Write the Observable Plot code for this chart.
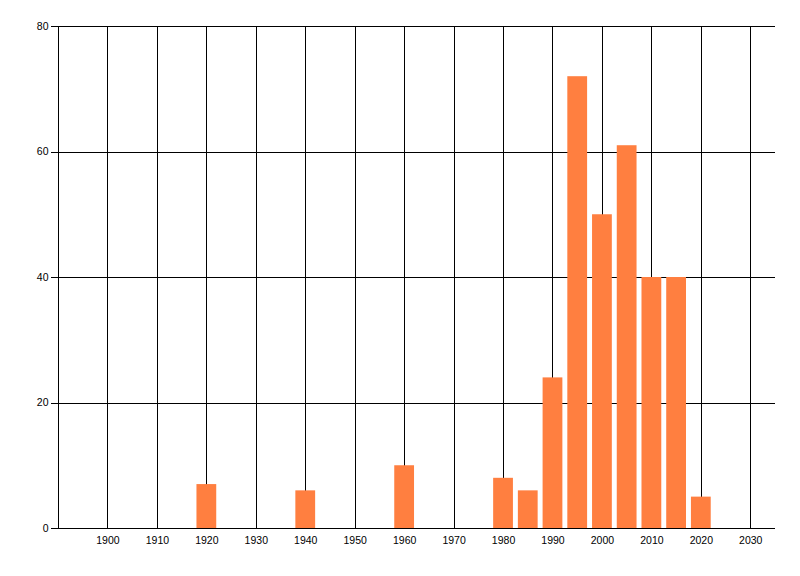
<!DOCTYPE html>
<html>
<head>
<meta charset="utf-8">
<script src="https://cdn.jsdelivr.net/npm/d3@7"></script>
<script src="https://cdn.jsdelivr.net/npm/@observablehq/plot@0.6"></script>
<style>
  body { margin: 0; background: #fff; }
  #chart svg { display: block; }
  #chart line, #chart path { shape-rendering: crispEdges; }
</style>
</head>
<body>
<div id="chart"></div>
<script>
const years = [1920, 1940, 1960, 1980, 1985, 1990, 1995, 2000, 2005, 2010, 2015, 2020];
const counts = [7, 6, 10, 8, 6, 24, 72, 50, 61, 40, 40, 5];
const xTicks = [1900, 1910, 1920, 1930, 1940, 1950, 1960, 1970, 1980, 1990, 2000, 2010, 2020, 2030];
const yTicks = [0, 20, 40, 60, 80];

const data = years.map((year, i) => ({year, count: counts[i]}));

let chart = Plot.plot({
  width: 800,
  height: 576,
  marginLeft: 58,
  marginTop: 26,
  marginBottom: 48,
  marginRight: 25,
  style: {
    fontFamily: "Liberation Sans, Arial, sans-serif",
    fontSize: "10.5px",
    color: "#000",
    background: "#fff"
  },
  x: {domain: [1890, 2035]},
  y: {domain: [0, 80]},
  marks: [
    Plot.gridX(xTicks, {stroke: "#000", strokeOpacity: 1}),
    Plot.gridY(yTicks.slice(1), {stroke: "#000", strokeOpacity: 1}),
    Plot.rectY(data, {
      x1: d => d.year - 2,
      x2: d => d.year + 2,
      y: "count",
      fill: "#ff7f40"
    }),
    Plot.ruleX([1890], {stroke: "#000"}),
    Plot.ruleY([0], {stroke: "#000"}),
    Plot.axisY(yTicks, {tickSize: 7, tickPadding: 3, label: null}),
    Plot.axisX(xTicks, {tickSize: 0, tickPadding: 8, label: null, tickFormat: d => String(d)})
  ]
})

d3.select('#chart').append(() => chart)
</script>
</body>
</html>
